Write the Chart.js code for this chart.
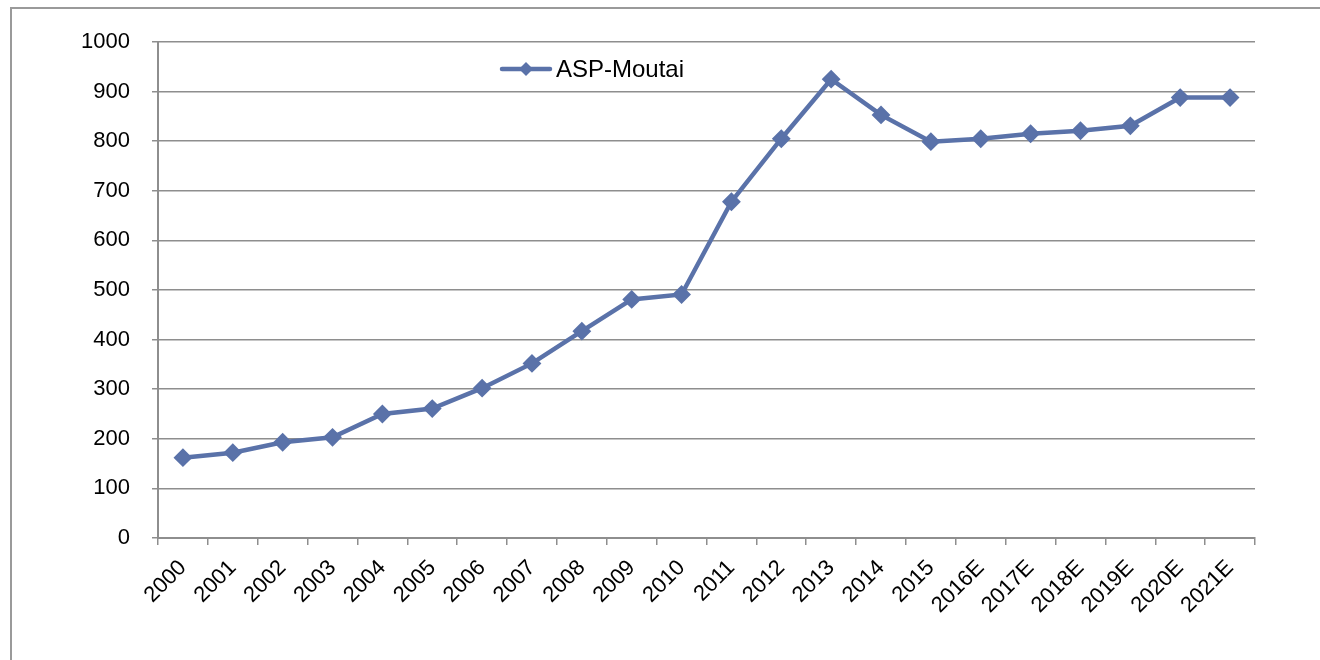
<!DOCTYPE html>
<html>
<head>
<meta charset="utf-8">
<script src="https://cdn.jsdelivr.net/npm/chart.js@4"></script>
<style>
  html, body { margin: 0; padding: 0; background: #fff; }
  #wrap { width: 1320px; height: 660px; }
</style>
</head>
<body>
<div id="wrap"><canvas id="aspChart" width="1320" height="660"></canvas></div>
<script>
// Anos (E = estimativa)
const years = ['2000', '2001', '2002', '2003', '2004', '2005', '2006', '2007', '2008', '2009', '2010',
    '2011', '2012', '2013', '2014', '2015', '2016E', '2017E', '2018E', '2019E', '2020E', '2021E'];

// Preço médio de venda
const aspMoutai = [162, 172, 193, 203, 250, 261, 302, 352, 417, 481, 491,
    678, 805, 925, 853, 799, 805, 815, 821, 831, 888, 888];

const seriesName = 'ASP-Moutai';
const yTicks = { min: 0, max: 1000, step: 100 };

const LINE_COLOR = '#5a72a9';
const GRID_COLOR = '#8e8e8e';
const FONT = '"Liberation Sans", Arial, sans-serif';

// Moldura cinza no canto superior esquerdo
const framePlugin = {
    id: 'frame',
    beforeDraw(chart) {
        const ctx = chart.ctx;
        ctx.save();
        ctx.strokeStyle = '#9a9a9a';
        ctx.lineWidth = 2;
        ctx.beginPath();
        ctx.moveTo(11, 660);
        ctx.lineTo(11, 8);
        ctx.lineTo(1320, 8);
        ctx.stroke();
        ctx.restore();
    }
};

// Legenda dentro da área do gráfico: linha + losango + texto
const legendPlugin = {
    id: 'insideLegend',
    afterDatasetsDraw(chart) {
        const ctx = chart.ctx;
        const ds = chart.data.datasets[0];
        const x0 = 502, x1 = 550, y = 69;
        ctx.save();
        ctx.strokeStyle = ds.borderColor;
        ctx.lineWidth = 4.5;
        ctx.lineCap = 'round';
        ctx.beginPath();
        ctx.moveTo(x0, y);
        ctx.lineTo(x1, y);
        ctx.stroke();
        const cx = (x0 + x1) / 2, r = 7;
        ctx.fillStyle = ds.backgroundColor;
        ctx.beginPath();
        ctx.moveTo(cx - r, y);
        ctx.lineTo(cx, y - r);
        ctx.lineTo(cx + r, y);
        ctx.lineTo(cx, y + r);
        ctx.closePath();
        ctx.fill();
        ctx.fillStyle = '#000';
        ctx.font = '24px ' + FONT;
        ctx.textAlign = 'left';
        ctx.textBaseline = 'middle';
        ctx.fillText(ds.label, 556, y + 1);
        ctx.restore();
    }
};

const ctx = document.getElementById('aspChart').getContext('2d');
const chart = new Chart(ctx, {
    type: 'line',
    data: {
        labels: years,
        datasets: [{
            label: seriesName,
            data: aspMoutai,
            borderColor: LINE_COLOR,
            backgroundColor: LINE_COLOR,
            borderWidth: 4.5,
            pointStyle: 'rectRot',
            pointRadius: 8,
            pointBorderWidth: 2,
            pointBorderColor: LINE_COLOR,
            pointBackgroundColor: LINE_COLOR,
            tension: 0,
            fill: false
        }]
    },
    options: {
        responsive: false,
        animation: false,
        layout: { padding: { top: 42, right: 65, left: 0, bottom: 0 } },
        plugins: {
            legend: { display: false },
            tooltip: { enabled: false }
        },
        scales: {
            x: {
                offset: true,
                afterFit(scale) { scale.height = 122; },
                grid: {
                    offset: true,
                    drawOnChartArea: false,
                    drawTicks: true,
                    tickLength: 7,
                    color: GRID_COLOR,
                    lineWidth: 1.5
                },
                border: { color: GRID_COLOR, width: 2 },
                ticks: {
                    color: '#000',
                    font: { family: FONT, size: 22 },
                    minRotation: 45,
                    maxRotation: 45,
                    autoSkip: false,
                    padding: 10
                }
            },
            y: {
                min: yTicks.min,
                max: yTicks.max,
                afterFit(scale) { scale.width = 158; },
                grid: {
                    color: GRID_COLOR,
                    lineWidth: 1.5,
                    tickLength: 6
                },
                border: { color: GRID_COLOR, width: 2 },
                ticks: {
                    stepSize: yTicks.step,
                    color: '#000',
                    font: { family: FONT, size: 22 },
                    padding: 22,
                    callback: (v) => String(v)
                }
            }
        }
    },
    plugins: [framePlugin, legendPlugin]
});
</script>
</body>
</html>
